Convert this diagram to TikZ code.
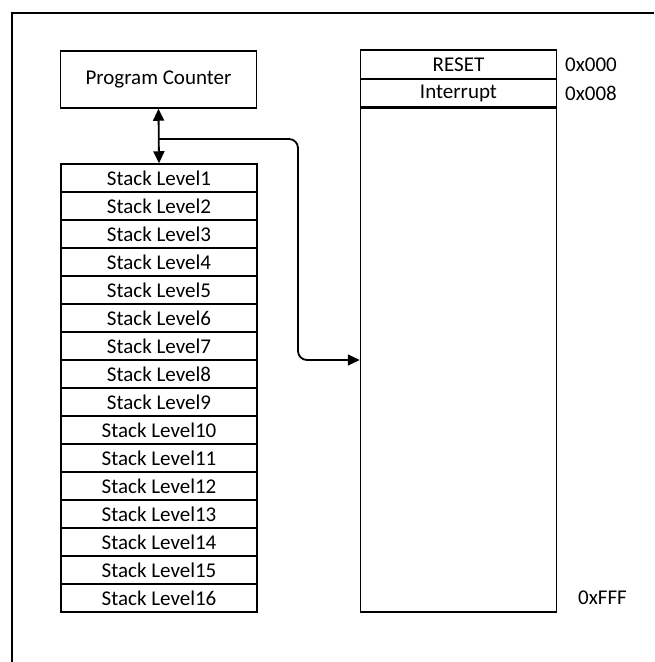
\documentclass[tikz,border=0pt]{standalone}
\usepackage{fontspec}
\setmainfont{Carlito}
\usetikzlibrary{arrows.meta}
\begin{document}
\begin{tikzpicture}[x=1pt,y=-1pt,
  box/.style={draw,line width=1.5pt,minimum width=196pt,inner sep=0pt,font=\fontsize{21}{24}\selectfont},
  lbl/.style={anchor=west,inner sep=0pt,font=\fontsize{21}{24}\selectfont},
  endarrow/.style={-{Triangle[length=12pt,width=11pt]}},
  botharrow/.style={{Triangle[length=12pt,width=11pt]}-{Triangle[length=12pt,width=11pt]}},
  conn/.style={line width=1.8pt}]
\useasboundingbox (0,0) rectangle (654,662);
\draw[line width=2pt] (12,662) -- (12,13) -- (654,13);
% program counter
\node[box,minimum height=57pt] (pc) at (158.5,79.5) {Program Counter};
% stack
\foreach \i in {1,...,16}{
  \node[box,minimum height=28pt] (s\i) at (159,{164+28*(\i-1)+14}) {Stack Level\i};
}
% memory
\node[box,minimum height=29pt] (reset) at (458.5,64.5) {RESET};
\node[box,minimum height=29pt] (intr) at (458.5,93.5) {Interrupt};
\node[box,minimum height=504pt] (mem) at (458.5,360) {};
\draw[line width=2.5pt] (mem.north west) -- (mem.north east);
\node[lbl] (a0) at (565,65) {0x000};
\node[lbl] (a8) at (565,93) {0x008};
\node[lbl] (af) at (578,598) {0xFFF};
% connectors
\draw[conn,botharrow] (pc.south) -- (s1.north);
\coordinate (j) at (159,139);
\draw[conn,endarrow,rounded corners=9pt] (j) -- (298,139) -- (298,360) -- (mem.west);
\end{tikzpicture}
\end{document}
